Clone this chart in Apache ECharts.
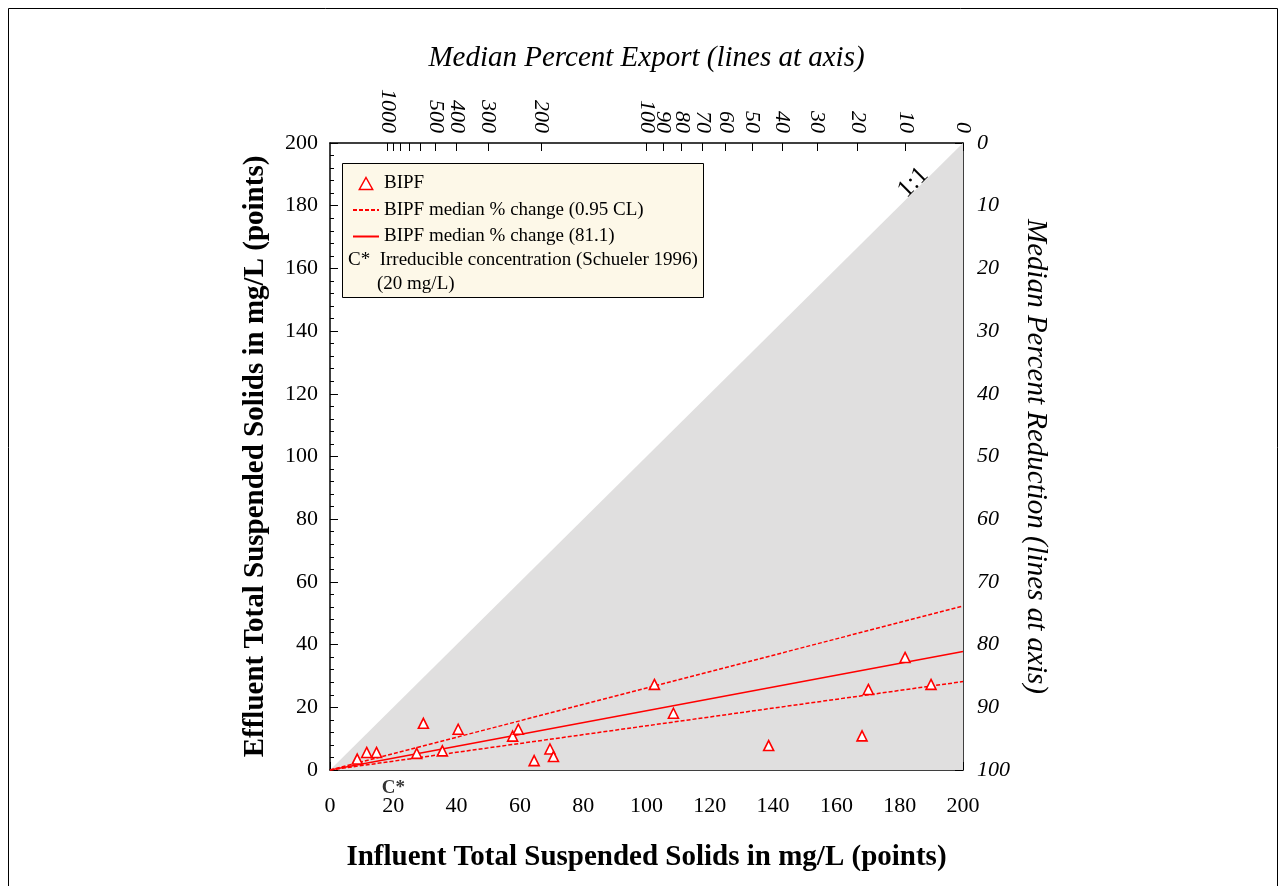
<!DOCTYPE html>
<html>
<head>
<meta charset="utf-8">
<script src="https://cdn.jsdelivr.net/npm/echarts@6/dist/echarts.min.js"></script>
<style>html,body{margin:0;padding:0;background:#fff}#c{width:1286px;height:886px}</style>
</head>
<body>
<div id="c"></div>
<script>
// Influent (x) and effluent (y) TSS for BIPF, mg/L
const bipfX = [8.6, 11.6, 14.7, 27.4, 29.5, 35.5, 40.5, 57.7, 59.5, 64.5, 69.5, 70.6, 102.5, 108.5, 138.6, 168.1, 170.1, 181.7, 189.9];
const bipfY = [3.5, 5.6, 5.6, 5.3, 14.9, 6.1, 13.0, 10.8, 13.0, 3.0, 6.7, 4.3, 27.3, 18.1, 7.8, 10.9, 25.7, 35.9, 27.3];
// median % change lines (x, y endpoints)
const medianLineX = [0, 200];
const medianLineY = [0, 37.8];
const upperCLY = [0, 52.3];
const lowerCLY = [0, 28.2];
// 1:1 line
const oneToOneX = [0, 200];
const oneToOneY = [0, 200];
// irreducible concentration
const cStar = 20;
// top axis: median percent export labels and ticks
const exportLabels = [1000, 500, 400, 300, 200, 100, 90, 80, 70, 60, 50, 40, 30, 20, 10, 0];
const exportTicks = [1000, 900, 800, 700, 600, 500, 400, 300, 200, 100, 90, 80, 70, 60, 50, 40, 30, 20, 10, 0];

const FONT = '"Liberation Serif", "Times New Roman", serif';
const exportPos = e => 200 / (1 + e / 100);
const labelPos = exportLabels.map(exportPos);
const tickPos = exportTicks.map(exportPos);

const chart = echarts.init(document.getElementById('c'));
const zip = (a, b) => a.map((v, i) => [v, b[i]]);

const tickStyle = { inside: true, length: 8, lineStyle: { color: '#000', width: 1 } };
const minorStyle = { show: true, length: 4, lineStyle: { color: '#000', width: 1 } };
const TICK_FS = 22;

chart.setOption({
  animation: false,
  backgroundColor: '#fff',
  grid: { left: 330, top: 143, width: 633, height: 627, containLabel: false },
  xAxis: [
    {
      type: 'value', position: 'bottom', min: 0, max: 200, interval: 20,
      name: 'Influent Total Suspended Solids in mg/L (points)', nameLocation: 'middle', nameGap: 73,
      nameTextStyle: { fontFamily: FONT, fontSize: 29, fontWeight: 'bold', color: '#000' },
      axisLine: { onZero: false, lineStyle: { color: '#000', width: 1.5 } },
      axisTick: tickStyle, minorTick: Object.assign({ splitNumber: 5 }, minorStyle),
      axisLabel: { margin: 25, fontFamily: FONT, fontSize: TICK_FS, color: '#000' },
      splitLine: { show: false }
    },
    {
      type: 'value', position: 'top', min: 0, max: 200,
      name: 'Median Percent Export (lines at axis)', nameLocation: 'middle', nameGap: 70,
      nameTextStyle: { fontFamily: FONT, fontSize: 29, fontStyle: 'italic', color: '#000' },
      axisLine: { onZero: false, lineStyle: { color: '#000', width: 1.5 } },
      axisTick: Object.assign({ customValues: tickPos }, tickStyle),
      axisLabel: {
        customValues: labelPos, rotate: 90, margin: 10, fontFamily: FONT, fontSize: TICK_FS, fontStyle: 'italic', color: '#000',
        formatter: v => {
          let best = 0, bd = 1e9;
          labelPos.forEach((p, i) => { const d = Math.abs(p - v); if (d < bd) { bd = d; best = i; } });
          return String(exportLabels[best]);
        }
      },
      splitLine: { show: false }
    }
  ],
  yAxis: [
    {
      type: 'value', position: 'left', min: 0, max: 200, interval: 20,
      name: 'Effluent Total Suspended Solids in mg/L (points)', nameLocation: 'middle', nameGap: 60,
      nameTextStyle: { fontFamily: FONT, fontSize: 29, fontWeight: 'bold', color: '#000' },
      axisLine: { show: true, onZero: false, lineStyle: { color: '#000', width: 1.5 } },
      axisTick: tickStyle, minorTick: Object.assign({ splitNumber: 5 }, minorStyle),
      axisLabel: { margin: 12, fontFamily: FONT, fontSize: TICK_FS, color: '#000' },
      splitLine: { show: false }
    },
    {
      type: 'value', position: 'right', min: 0, max: 100, interval: 10, inverse: true,
      name: 'Median Percent Reduction (lines at axis)', nameLocation: 'middle', nameGap: 58, nameRotate: -90,
      nameTextStyle: { fontFamily: FONT, fontSize: 29, fontStyle: 'italic', color: '#000' },
      axisLine: { show: true, onZero: false, lineStyle: { color: '#000', width: 1.5 } },
      axisTick: tickStyle, minorTick: Object.assign({ splitNumber: 4 }, minorStyle),
      axisLabel: { margin: 14, fontFamily: FONT, fontSize: TICK_FS, fontStyle: 'italic', color: '#000' },
      splitLine: { show: false }
    }
  ],
  legend: {
    orient: 'vertical', left: 352, top: 174, itemGap: 7.5, itemWidth: 26, itemHeight: 12,
    padding: 0, z: 5, symbolKeepAspect: true,
    textStyle: { fontFamily: FONT, fontSize: 19, color: '#000', lineHeight: 19 },
    data: [
      { name: 'BIPF', icon: 'path://M5,0L10,9L0,9Z', itemStyle: { color: '#fff', borderColor: 'red', borderWidth: 1.5 } },
      { name: 'BIPF median % change (0.95 CL)', itemStyle: { opacity: 0 } },
      { name: 'BIPF median % change (81.1)', itemStyle: { opacity: 0 } }
    ]
  },
  graphic: [
    { type: 'rect', z: 3, shape: { x: 342.5, y: 163.5, width: 361, height: 134 },
      style: { fill: '#fdf8e8', stroke: '#000', lineWidth: 1 } },
    { type: 'text', z: 5, left: 348, top: 251,
      style: { text: 'C*  Irreducible concentration (Schueler 1996)', font: '19px ' + FONT, fill: '#000' } },
    { type: 'text', z: 5, left: 377, top: 275,
      style: { text: '(20 mg/L)', font: '19px ' + FONT, fill: '#000' } },
    { type: 'text', z: 5, x: 893, y: 185, rotation: Math.PI / 4,
      style: { text: '1:1', font: '25px ' + FONT, fill: '#000' } },
    { type: 'rect', z: 0, shape: { x: 8.5, y: 8.5, width: 1269, height: 890 },
      style: { fill: 'none', stroke: '#000', lineWidth: 1 } }
  ],
  series: [
    {
      name: '1:1', type: 'line', xAxisIndex: 0, yAxisIndex: 0, silent: true, z: 1,
      data: zip(oneToOneX, oneToOneY), symbol: 'none',
      lineStyle: { width: 0, color: '#e0dfdf' },
      areaStyle: { color: '#e0dfdf', opacity: 1, origin: 'start' }
    },
    {
      name: 'BIPF median % change (0.95 CL)', type: 'line', data: zip(medianLineX, upperCLY), symbol: 'none', z: 3,
      lineStyle: { color: 'red', width: 1.5, type: [4, 2] }, itemStyle: { color: 'red' }
    },
    {
      name: 'BIPF median % change (0.95 CL)', type: 'line', data: zip(medianLineX, lowerCLY), symbol: 'none', z: 3,
      lineStyle: { color: 'red', width: 1.5, type: [4, 2] }, itemStyle: { color: 'red' }
    },
    {
      name: 'BIPF median % change (81.1)', type: 'line', data: zip(medianLineX, medianLineY), symbol: 'none', z: 3,
      lineStyle: { color: 'red', width: 1.5, type: 'solid' }, itemStyle: { color: 'red' }
    },
    {
      name: 'BIPF', type: 'scatter', data: zip(bipfX, bipfY), symbol: 'triangle', symbolSize: 10, z: 4,
      itemStyle: { color: '#fff', borderColor: 'red', borderWidth: 1.6, opacity: 1 }
    },
    {
      name: 'C*', type: 'scatter', data: [[cStar, 0]], symbolSize: 0, silent: true, z: 4,
      label: { show: true, position: 'bottom', distance: 9, formatter: 'C*',
        fontFamily: FONT, fontSize: 19, fontWeight: 'bold', color: '#000' }
    }
  ]
});
</script>
</body>
</html>
